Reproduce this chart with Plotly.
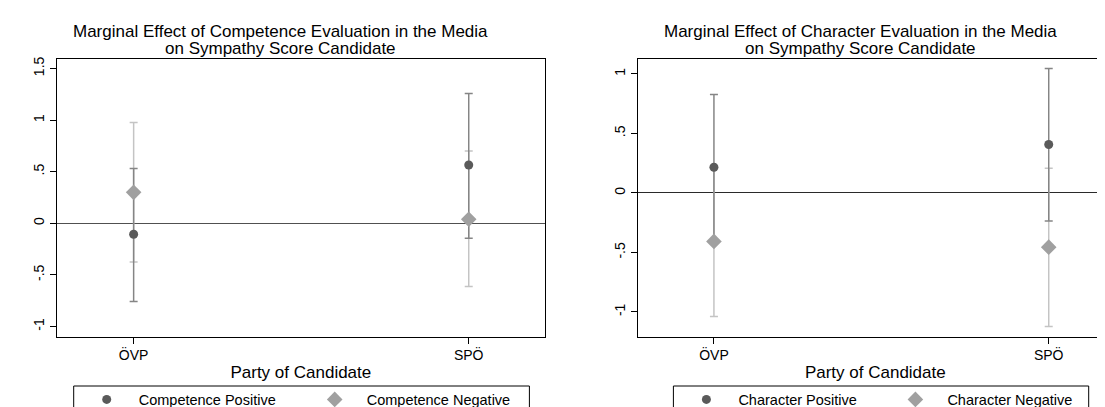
import plotly.graph_objects as go

parties = ["ÖVP", "SPÖ"]
party_pos = [1, 2]

# Left panel: Competence
comp_pos_est = [-0.106, 0.565]
comp_pos_lo = [-0.758, -0.145]
comp_pos_hi = [0.532, 1.258]
comp_neg_est = [0.300, 0.039]
comp_neg_lo = [-0.374, -0.613]
comp_neg_hi = [0.978, 0.700]

# Right panel: Character
char_pos_est = [0.216, 0.407]
char_pos_lo = [-0.396, -0.236]
char_pos_hi = [0.828, 1.047]
char_neg_est = [-0.407, -0.455]
char_neg_lo = [-1.037, -1.121]
char_neg_hi = [0.223, 0.208]

ytick_vals_left = [-1, -0.5, 0, 0.5, 1, 1.5]
ytick_text_left = ["-1", "-.5", "0", ".5", "1", "1.5"]
ytick_vals_right = [-1, -0.5, 0, 0.5, 1]
ytick_text_right = ["-1", "-.5", "0", ".5", "1"]

titles = [
    ("Marginal Effect of Competence Evaluation in the Media", "on Sympathy Score Candidate"),
    ("Marginal Effect of Character Evaluation in the Media", "on Sympathy Score Candidate"),
]
legend_names = [("Competence Positive", "Competence Negative"),
                ("Character Positive", "Character Negative")]

FONT = "Liberation Sans, Arial, sans-serif"
W, H = 1105, 407
C_POS = "#5a5a5a"
C_NEG = "#a0a0a0"
C_POS_CI = "#858585"
C_NEG_CI = "#c4c4c4"

fig = go.Figure()

panels = [
    dict(pos=(comp_pos_est, comp_pos_lo, comp_pos_hi), neg=(comp_neg_est, comp_neg_lo, comp_neg_hi),
         xa="x", ya="y", leg="legend"),
    dict(pos=(char_pos_est, char_pos_lo, char_pos_hi), neg=(char_neg_est, char_neg_lo, char_neg_hi),
         xa="x2", ya="y2", leg="legend2"),
]

def ci_trace(est, lo, hi, color, xa, ya):
    return go.Scatter(
        x=party_pos, y=est, mode="markers", xaxis=xa, yaxis=ya,
        marker=dict(color="rgba(0,0,0,0)", size=2), showlegend=False, hoverinfo="skip",
        error_y=dict(type="data", symmetric=False,
                     array=[h - e for h, e in zip(hi, est)],
                     arrayminus=[e - l for e, l in zip(est, lo)],
                     color=color, thickness=1.5, width=4),
    )

for i, p in enumerate(panels):
    fig.add_trace(ci_trace(*p["neg"], C_NEG_CI, p["xa"], p["ya"]))
    fig.add_trace(ci_trace(*p["pos"], C_POS_CI, p["xa"], p["ya"]))
    fig.add_trace(go.Scatter(x=party_pos, y=p["pos"][0], mode="markers", xaxis=p["xa"], yaxis=p["ya"],
                             name=legend_names[i][0], legend=p["leg"],
                             marker=dict(symbol="circle", size=9, color=C_POS)))
    fig.add_trace(go.Scatter(x=party_pos, y=p["neg"][0], mode="markers", xaxis=p["xa"], yaxis=p["ya"],
                             name=legend_names[i][1], legend=p["leg"],
                             marker=dict(symbol="diamond", size=12, color=C_NEG)))

def px_x(v):
    return v / W

def px_y(v):
    return 1 - v / H

plot_top, plot_bot = 50.5, 328.5
left_l, left_r = 48.9, 536.8
right_l = 629.6

common_x = dict(tickvals=party_pos, ticktext=parties, ticks="outside", ticklen=6, tickcolor="black",
                showline=True, linecolor="black", linewidth=1, showgrid=False, zeroline=False,
                tickfont=dict(family=FONT, size=14, color="black"),
                title=dict(text="Party of Candidate", font=dict(family=FONT, size=17, color="black"), standoff=3))
common_y = dict(ticks="outside", ticklen=6, tickcolor="black", tickangle=-90,
                showline=True, linecolor="black", linewidth=1, showgrid=False,
                zeroline=True, zerolinewidth=1,
                tickfont=dict(family=FONT, size=14, color="black"))

LEG_TOP = 375.5      # legend content anchor
FRAME_TOP = 378.0    # visible legend frame top edge
frames = [(65.7, 521.4), (665.4, 1080.7)]

fig.update_layout(
    width=W, height=H,
    margin=dict(l=0, r=0, t=0, b=0, autoexpand=False),
    paper_bgcolor="white", plot_bgcolor="white",
    font=dict(family=FONT, color="black"),
    xaxis=dict(domain=[px_x(left_l), px_x(left_r)], range=[0.771, 2.227], mirror=True, anchor="y", **common_x),
    yaxis=dict(domain=[px_y(plot_bot), px_y(plot_top)], range=[-1.097, 1.597], mirror=True, anchor="x",
               tickvals=ytick_vals_left, ticktext=ytick_text_left, zerolinecolor="#505050", **common_y),
    xaxis2=dict(domain=[px_x(right_l), 1.0], range=[0.772, 2.192], mirror=True, anchor="y2", **common_x),
    yaxis2=dict(domain=[px_y(plot_bot), px_y(plot_top)], range=[-1.206, 1.13], mirror=False, anchor="x2",
                tickvals=ytick_vals_right, ticktext=ytick_text_right, zerolinecolor="#2a2a2a", **common_y),
    legend=dict(orientation="h", x=px_x(frames[0][0] + 1), y=px_y(LEG_TOP), xanchor="left", yanchor="top",
                borderwidth=0, bgcolor="rgba(0,0,0,0)", itemwidth=54, entrywidth=159,
                font=dict(family=FONT, size=14.5, color="black")),
    legend2=dict(orientation="h", x=px_x(frames[1][0] + 1), y=px_y(LEG_TOP), xanchor="left", yanchor="top",
                 borderwidth=0, bgcolor="rgba(0,0,0,0)", itemwidth=54, entrywidth=140,
                 font=dict(family=FONT, size=14.5, color="black")),
)

for x0, x1 in frames:
    fig.add_shape(type="rect", xref="paper", yref="paper",
                  x0=px_x(x0), x1=px_x(x1), y0=px_y(FRAME_TOP), y1=px_y(H + 20),
                  line=dict(color="black", width=1), fillcolor="rgba(0,0,0,0)", layer="below")

centers = [272, 852.7]
for c, (l1, l2) in zip(centers, titles):
    fig.add_annotation(x=px_x(c), y=px_y(23.3), xref="paper", yref="paper", text=l1, showarrow=False,
                       xanchor="center", yanchor="middle", font=dict(family=FONT, size=17, color="black"))
    fig.add_annotation(x=px_x(c), y=px_y(40), xref="paper", yref="paper", text=l2, showarrow=False,
                       xanchor="center", yanchor="middle", font=dict(family=FONT, size=17, color="black"))

fig.write_html("out.html")
